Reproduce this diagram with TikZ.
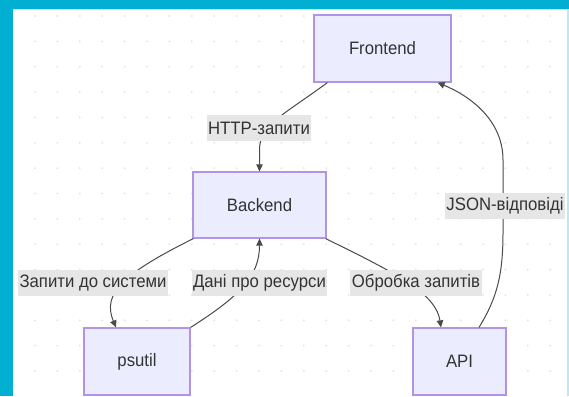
\documentclass[tikz,border=0pt]{standalone}
\usepackage{fontspec}
\setmainfont{Liberation Sans}[FakeStretch=0.93]
\usetikzlibrary{arrows.meta}
\definecolor{band}{HTML}{00AFD2}
\definecolor{bandlight}{HTML}{BDE8F2}
\definecolor{nodefill}{HTML}{ECECFF}
\definecolor{nodeline}{HTML}{B294E6}
\definecolor{labelbg}{HTML}{E6E6E6}
\definecolor{txt}{HTML}{333333}
\definecolor{edgecol}{HTML}{4A4A4A}
\definecolor{dotcol}{HTML}{E2E2E2}
\tikzset{
  box/.style={draw=nodeline, line width=1.2pt, fill=nodefill, text=txt, inner sep=0pt,
    font=\fontsize{18}{20}\selectfont},
  elabel/.style={fill=labelbg, text=txt, inner xsep=1.5pt, inner ysep=0pt, minimum height=26pt,
    font=\fontsize{18}{20}\selectfont},
  conn/.style={draw=edgecol, line width=1pt, -{Triangle[length=7pt,width=6.5pt]}},
}
\begin{document}
\begin{tikzpicture}[x=1pt,y=-1pt]
\useasboundingbox (0,0) rectangle (569,396);
% background and frame
\fill[white] (0,0) rectangle (569,396);
\fill[band] (0,0) rectangle (569,9);
\fill[bandlight] (13,9) rectangle (569,10.5);
\fill[bandlight] (566.5,9) rectangle (569,396);
\fill[band] (0,0) rectangle (13,396);
% dotted grid
\foreach \i in {0,...,23}{
  \foreach \j in {0,...,14}{
    \fill[dotcol] ({35+22.4*\i},{16+25.36*\j}) circle (1pt);
  }
}
% nodes
\node[box, minimum width=137pt, minimum height=67pt] (F) at (382.5,48.5) {Frontend};
\node[box, minimum width=133pt, minimum height=66pt] (B) at (259.5,205) {Backend};
\node[box, minimum width=106pt, minimum height=67pt] (P) at (137,361.5) {psutil};
\node[box, minimum width=93pt, minimum height=67pt] (A) at (459.5,361.5) {API};
% connectors
\draw[conn] ([xshift=14pt]F.south west) .. controls (282,116) and (259.5,125) .. (259.5,150) -- (B.north);
\draw[conn] ([xshift=1pt]B.south west) .. controls (122,274) and (102,294) .. ([xshift=-21pt]P.north);
\draw[conn] (P.north east) .. controls (240,296) and (259.5,276) .. (B.south);
\draw[conn] ([xshift=-1pt]B.south east) .. controls (398,274) and (436,294) .. ([xshift=-18.5pt]A.north);
\draw[conn] ([xshift=19.5pt]A.north) .. controls (497,298) and (503,275) .. (503,232) -- (503,160)
  .. controls (503,120) and (470,96) .. ([xshift=-14pt]F.south east);
% edge labels
\node[elabel] (l1) at (259,128) {HTTP-запити};
\node[elabel] (l2) at (505,206) {JSON-відповіді};
\node[elabel] (l3) at (93,283) {Запити до системи};
\node[elabel] (l4) at (259.5,283) {Дані про ресурси};
\node[elabel] (l5) at (416,283) {Обробка запитів};
\end{tikzpicture}
\end{document}
